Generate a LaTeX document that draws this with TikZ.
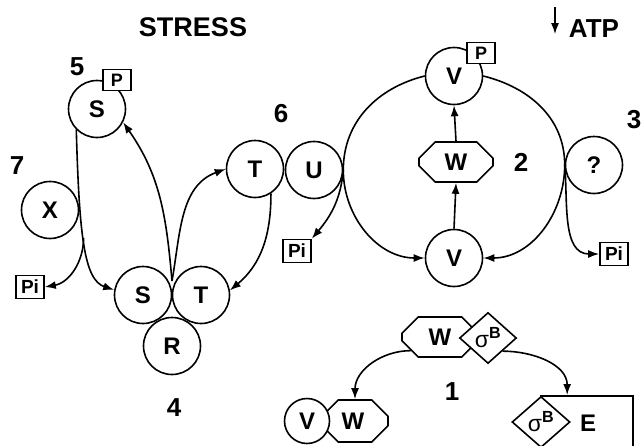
\documentclass[tikz,border=0pt]{standalone}
\usepackage{fontspec}
\setmainfont{Liberation Sans}
\usetikzlibrary{arrows.meta,shapes.geometric,shapes.misc}

\newcommand{\fsz}[1]{\fontsize{#1}{#1}\selectfont\bfseries}

\begin{document}
\begin{tikzpicture}[x=1pt, y=1pt,
    mol/.style={circle, draw, fill=white, line width=1.6pt, minimum size=57pt, inner sep=0pt, font=\fsz{24}},
    tag/.style={rectangle, draw, fill=white, line width=1.6pt, minimum width=28pt, minimum height=21pt, inner sep=0pt, font=\fsz{18}},
    pibox/.style={rectangle, draw, fill=white, line width=1.6pt, minimum width=28pt, minimum height=23pt, inner sep=0pt, font=\fsz{19}},
    octo/.style={chamfered rectangle, chamfered rectangle xsep=9pt, chamfered rectangle ysep=8pt, draw, fill=white, line width=1.6pt, inner sep=0pt, font=\fsz{24}},
    sig/.style={diamond, draw, fill=white, line width=1.6pt, inner sep=0pt, font=\fontsize{23}{23}\selectfont},
    num/.style={font=\fsz{26}},
    arr/.style={-{Latex[length=11pt, width=8pt]}, line width=1.6pt}]

    \useasboundingbox (0,0) rectangle (642,-445);
    \clip (0,0) rectangle (642,-445);

    % titles and numbers
    \node[font=\fsz{27}] (stress) at (193,-27) {STRESS};
    \node[font=\fsz{26}] (atp) at (594,-29) {ATP};
    \coordinate (dn1) at (555,-7);
    \coordinate (dn2) at (555,-34);
    \node[num] (n5) at (77,-67) {5};
    \node[num] (n7) at (17,-166) {7};
    \node[num] (n6) at (281,-114) {6};
    \node[num] (n2) at (521,-162) {2};
    \node[num] (n3) at (634,-120) {3};
    \node[num] (n4) at (174,-408) {4};
    \node[num] (n1) at (452,-392) {1};

    % left part
    \node[mol] (s5) at (97,-109) {S};
    \node[tag] (p5) at (117,-80) {P};
    \node[mol] (x7) at (50,-210) {X};
    \node[mol] (t6) at (255,-169) {T};
    \node[mol] (u6) at (314,-170) {U};
    \node[mol] (s4) at (143,-295) {S};
    \node[mol] (t4) at (201,-295) {T};
    \node[mol] (r4) at (172,-346) {R};
    \coordinate (jn) at (172,-281);

    % right part
    \node[mol] (vp) at (454,-76) {V};
    \node[tag] (pv) at (481,-53) {P};
    \node[octo, minimum width=74pt, minimum height=40pt] (w2) at (456,-162) {W};
    \node[mol] (q3) at (594,-165) {?};
    \node[mol] (vb) at (454,-258) {V};

    \node[pibox] (pi1) at (30,-287) {Pi};
    \node[pibox] (pi2) at (297,-251) {Pi};
    \node[pibox] (pi3) at (614,-254) {Pi};

    % bottom part
    \node[octo, minimum width=76pt, minimum height=40pt] (wsig) at (440,-337) {W\hspace{6pt}};
    \node[sig, minimum width=57pt, minimum height=51pt] (sig) at (488,-338) {σ\textsuperscript{\bfseries B}};
    \node[octo, minimum width=66pt, minimum height=42pt] (w1) at (355,-421) {\hspace{-4pt}W};
    \node[mol, minimum size=45pt] (v1) at (307,-421) {V};
    \node[rectangle, draw, line width=1.6pt, anchor=north, minimum width=92pt, minimum height=55pt, font=\fsz{24}] (eb) at (587,-395) {\hspace{2pt}E};
    \node[sig, minimum width=58pt, minimum height=51pt] (sig2) at (541,-422) {σ\textsuperscript{\bfseries B}};

    % connectors
    \draw[arr, line width=1.2pt] (dn1) -- (dn2);
    \draw[arr] (s5.225) .. controls +(3,-106) and +(-30,10) .. (s4.170)
        coordinate[pos=0.45] (br);
    \draw[arr] (br) to[out=-90, in=10] (pi1.east);
    \draw[arr] (jn) to[out=95, in=-55] (s5.-27);
    \draw[arr] (jn) to[out=80, in=200] (t6.west);
    \draw[arr] (t6.-57) to[out=-90, in=40] (t4.9);
    \draw[arr] (u6.east) to[out=-95, in=50] (pi2.north east);
    \draw[arr] (vp.west) to[out=194, in=90] (u6.east) to[out=-90, in=180] (vb.west);
    \draw[arr] (vp.east) to[out=-14, in=90] (q3.west) to[out=-90, in=0] (vb.east);
    \draw[arr] (q3.west) to[out=-85, in=180] (pi3.west);
    \draw[arr] (vb.north) -- (w2.south);
    \draw[arr] (w2.north) -- (vp.south);
    \draw[arr] (wsig.205) to[out=180, in=90] (w1.north);
    \draw[arr] (sig.south east) to[out=0, in=90] (eb.125);
\end{tikzpicture}
\end{document}
